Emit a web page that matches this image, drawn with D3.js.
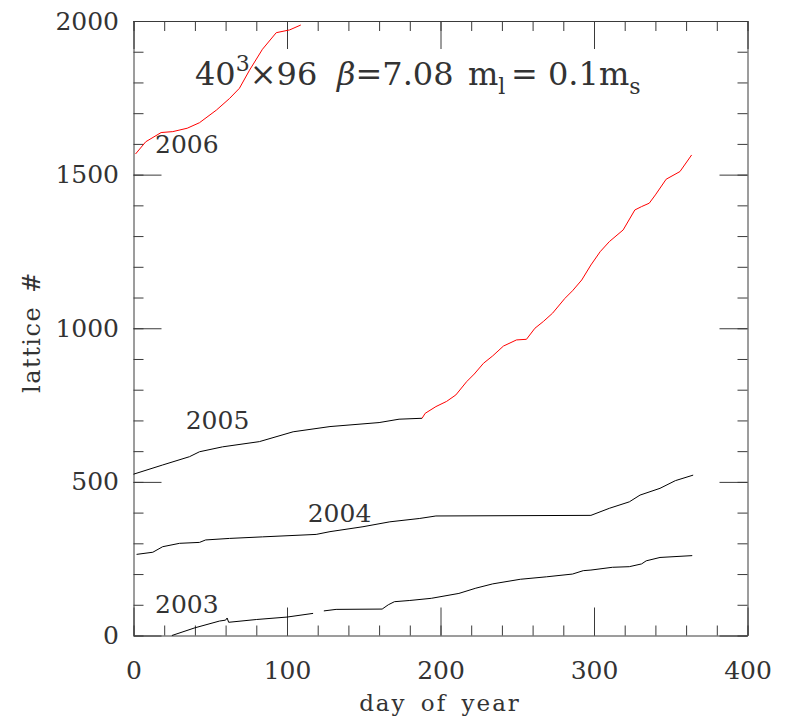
<!DOCTYPE html>
<html>
<head>
<meta charset="utf-8">
<script src="https://cdn.jsdelivr.net/npm/d3@7"></script>
<style>
  html, body { margin: 0; padding: 0; background: #fff; }
  svg { display: block; }
</style>
</head>
<body>
<svg id="chart" width="785" height="717"></svg>
<script>
// ---------------- data ----------------
const xMajorTicks = [0, 100, 200, 300, 400];
const yMajorTicks = [0, 500, 1000, 1500, 2000];
const xMinorTicks = d3.range(0, 401, 20);
const yMinorTicks = d3.range(0, 2001, 100);

// 2003 (black) - null marks the gap in the record
const days2003 = [25, 40, 56, 60, 61, 62, 80, 100, 117, null, 124, 132, 162, 166, 170, 180, 194, 212, 223, 234, 252, 269, 286, 293, 298, 312, 323, 331, 334, 343, 364];
const lat2003  = [0, 25, 47, 50, 57, 43, 52, 60, 72, null, 80, 85, 86, 100, 110, 114, 121, 137, 154, 168, 183, 191, 200, 211, 213, 222, 224, 233, 243, 254, 260];

// 2004 (black)
const days2004 = [2, 12.6, 19, 30, 43, 47, 62.6, 84, 119, 128, 149.5, 167, 186.5, 197, 298, 310, 323, 330, 343, 353, 364.6];
const lat2004  = [264, 271, 289, 300, 303, 311, 316, 321, 329, 338, 354, 370, 381, 389, 391, 414, 435, 457, 479, 504, 522];

// 2005 black part
const days2005a = [0, 19, 36.5, 43, 58, 82, 104, 128, 160, 173, 188];
const lat2005a  = [525, 555, 582, 598, 614, 631, 663, 680, 693, 704, 707];
// 2005 red part
const days2005b = [188, 190, 197, 204, 210, 217, 222, 228, 234, 241, 249.5, 256, 261.5, 267, 273, 281, 286, 292, 298, 304, 310, 319, 326.6, 331, 336, 340, 347, 356, 363.6];
const lat2005b  = [707, 723, 745, 762, 783, 826, 851, 886, 910, 942, 962, 964, 1000, 1022, 1049, 1097, 1122, 1157, 1206, 1249, 1282, 1320, 1385, 1396, 1407, 1434, 1485, 1510, 1564];

// 2006 (red)
const days2006 = [1.3, 8, 18, 25.6, 35, 43, 54, 62.6, 69, 75.6, 84, 93, 101.7, 109];
const lat2006  = [1567, 1607, 1637, 1640, 1651, 1669, 1710, 1748, 1781, 1840, 1908, 1962, 1971, 1987];

const yearLabels = ["2006", "2005", "2004", "2003"];
const yearLabelDay = [14, 34, 113.5, 14];
const yearLabelLat = [1571, 671, 371, 72];

// ---------------- layout ----------------
const svg = d3.select("#chart");
const L = 133.5, R = 747.5, T = 21, B = 635.5;
const x = d3.scaleLinear().domain([0, 400]).range([L, R]);
const y = d3.scaleLinear().domain([0, 2000]).range([B, T]);

const axisColor = "#3a3a3a";
const textColor = "#333";
const fontFam = "'DejaVu Serif', serif";

function styleAxis(g) {
  g.selectAll("path.domain").attr("stroke", axisColor).attr("stroke-width", 1);
  g.selectAll(".tick line").attr("stroke", axisColor).attr("stroke-width", 1);
  g.selectAll("text").attr("fill", textColor).style("font-family", fontFam).style("font-size", "25px");
}

// minor ticks
function minor(axisGen, pos, vals, transform) {
  const g = svg.append("g").attr("transform", transform)
    .call(axisGen(pos).tickValues(vals).tickSize(-10).tickFormat(""));
  g.select("path.domain").remove();
  styleAxis(g);
}
minor(d3.axisBottom, x, xMinorTicks, `translate(0,${B})`);
minor(d3.axisTop, x, xMinorTicks, `translate(0,${T})`);
minor(d3.axisLeft, y, yMinorTicks, `translate(${L},0)`);
minor(d3.axisRight, y, yMinorTicks, `translate(${R},0)`);

// major ticks
const gb = svg.append("g").attr("transform", `translate(0,${B})`)
  .call(d3.axisBottom(x).tickValues(xMajorTicks).tickSize(-28).tickSizeOuter(0).tickPadding(26).tickFormat(d3.format("d")));
styleAxis(gb);
const gt = svg.append("g").attr("transform", `translate(0,${T})`)
  .call(d3.axisTop(x).tickValues(xMajorTicks).tickSize(-28).tickSizeOuter(0).tickFormat(""));
styleAxis(gt);
const gl = svg.append("g").attr("transform", `translate(${L},0)`)
  .call(d3.axisLeft(y).tickValues(yMajorTicks).tickSize(-28).tickSizeOuter(0).tickPadding(14.5).tickFormat(d3.format("d")));
styleAxis(gl);
const gr = svg.append("g").attr("transform", `translate(${R},0)`)
  .call(d3.axisRight(y).tickValues(yMajorTicks).tickSize(-28).tickSizeOuter(0).tickFormat(""));
styleAxis(gr);

// ---------------- series ----------------
function drawSeries(days, vals, color) {
  const pts = days.map((d, i) => [d, vals[i]]);
  const line = d3.line()
    .defined(p => p[0] !== null && p[1] !== null)
    .x(p => x(p[0])).y(p => y(p[1]));
  svg.append("path").datum(pts)
    .attr("d", line)
    .attr("fill", "none")
    .attr("stroke", color)
    .attr("stroke-width", 1)
    .attr("stroke-linejoin", "round");
}
drawSeries(days2003, lat2003, "#000");
drawSeries(days2004, lat2004, "#000");
drawSeries(days2005a, lat2005a, "#000");
drawSeries(days2005b, lat2005b, "#ff0000");
drawSeries(days2006, lat2006, "#ff0000");

// year labels
yearLabels.forEach((t, i) => {
  svg.append("text")
    .attr("x", x(yearLabelDay[i])).attr("y", y(yearLabelLat[i]))
    .attr("fill", textColor)
    .style("font-family", fontFam).style("font-size", "25px")
    .text(t);
});

// axis titles
svg.append("text")
  .attr("x", 440).attr("y", 711)
  .attr("text-anchor", "middle")
  .attr("fill", textColor)
  .style("font-family", fontFam).style("font-size", "23px")
  .style("letter-spacing", "2px")
  .style("word-spacing", "5px")
  .text("day of year");

svg.append("text")
  .attr("transform", "translate(40,332) rotate(-90)")
  .attr("text-anchor", "middle")
  .attr("fill", textColor)
  .style("font-family", fontFam).style("font-size", "24px")
  .style("letter-spacing", "1.5px")
  .style("word-spacing", "4px")
  .text("lattice #");

// title
const title = svg.append("text")
  .attr("y", 85)
  .attr("fill", textColor)
  .style("font-family", fontFam).style("font-size", "32px");
title.append("tspan").attr("x", 195).text("40");
title.append("tspan").attr("dy", -14).style("font-size", "22px").text("3");
title.append("tspan").attr("dy", 14).text("×96");
title.append("tspan").attr("x", 337).style("font-style", "italic").text("β");
title.append("tspan").text("=7.08");
title.append("tspan").attr("x", 468).text("m");
title.append("tspan").attr("dy", 9).style("font-size", "22px").text("l");
title.append("tspan").attr("dy", -9).attr("x", 511).text("=");
title.append("tspan").attr("x", 548).text("0.1m");
title.append("tspan").attr("dy", 9).style("font-size", "22px").text("s");
</script>
</body>
</html>
